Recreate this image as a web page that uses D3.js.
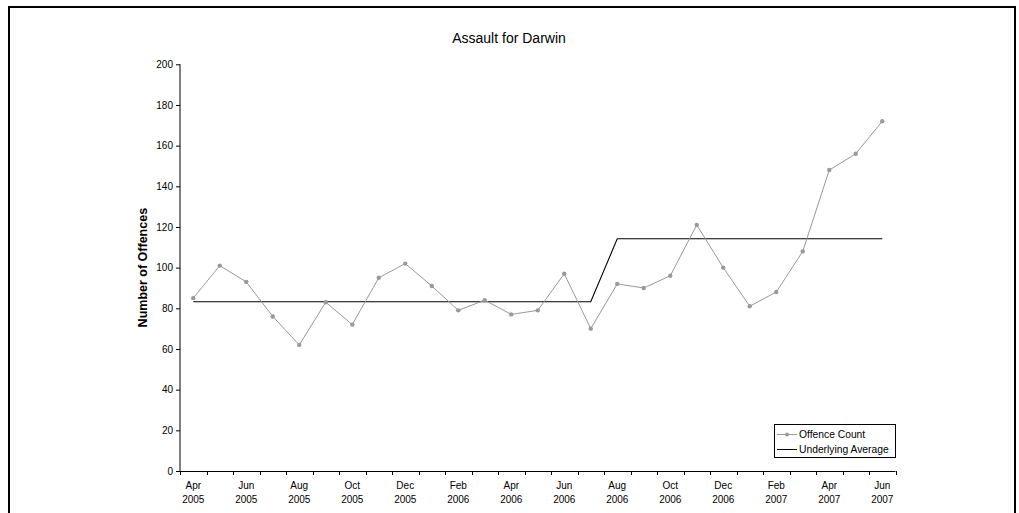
<!DOCTYPE html>
<html>
<head>
<meta charset="utf-8">
<script src="https://cdn.jsdelivr.net/npm/d3@7"></script>
<style>
  html, body { margin: 0; padding: 0; background: #fff; }
  svg { display: block; font-family: "Liberation Sans", Arial, sans-serif; }
</style>
</head>
<body>
<svg id="chart" width="1019" height="513"></svg>
<script>
const months = ["Apr 2005","May 2005","Jun 2005","Jul 2005","Aug 2005","Sep 2005","Oct 2005","Nov 2005","Dec 2005",
  "Jan 2006","Feb 2006","Mar 2006","Apr 2006","May 2006","Jun 2006","Jul 2006","Aug 2006","Sep 2006","Oct 2006",
  "Nov 2006","Dec 2006","Jan 2007","Feb 2007","Mar 2007","Apr 2007","May 2007","Jun 2007"];
const offenceCount = [85,101,93,76,62,83,72,95,102,91,79,84,77,79,97,70,92,90,96,121,100,81,88,108,148,156,172];
const underlyingAverage = [83.2,83.2,83.2,83.2,83.2,83.2,83.2,83.2,83.2,83.2,83.2,83.2,83.2,83.2,83.2,83.2,
  114.2,114.2,114.2,114.2,114.2,114.2,114.2,114.2,114.2,114.2,114.2];
const yTicks = [0,20,40,60,80,100,120,140,160,180,200];
const seriesNames = ["Offence Count","Underlying Average"];
const chartTitle = "Assault for Darwin";
const yTitle = "Number of Offences";

const svg = d3.select("#chart");

// outer border
svg.append("rect").attr("x",9).attr("y",7).attr("width",1006).attr("height",600)
  .attr("fill","none").attr("stroke","#000").attr("stroke-width",2);

const pLeft = 180, pRight = 895.5, pTop = 64.3, pBottom = 471;
const x = d3.scaleBand().domain(months).range([pLeft, pRight]).padding(0);
const y = d3.scaleLinear().domain([0,200]).range([pBottom, pTop]);
const cx = m => x(m) + x.bandwidth()/2;

// title
svg.append("text").attr("x",509).attr("y",43).attr("text-anchor","middle")
  .attr("font-size",14).attr("fill","#000").text(chartTitle);

// y axis
const yAxis = svg.append("g").attr("transform",`translate(${pLeft},0)`)
  .call(d3.axisLeft(y).tickValues(yTicks).tickSize(4).tickPadding(3));
yAxis.select(".domain").attr("stroke","#000").attr("d",`M0,${pBottom}V${pTop}`);
yAxis.selectAll(".tick line").attr("stroke","#000");
yAxis.selectAll(".tick text").attr("font-size",10).attr("fill","#000")
  .attr("font-family","Liberation Sans, Arial, sans-serif");

// y title
svg.append("text").attr("transform",`translate(147,${(pTop+pBottom)/2}) rotate(-90)`)
  .attr("text-anchor","middle").attr("font-size",12.5).attr("font-weight","bold")
  .attr("fill","#000").text(yTitle);

// x axis
const xg = svg.append("g").attr("transform",`translate(0,${pBottom})`);
xg.append("line").attr("x1",pLeft).attr("x2",pRight).attr("y1",0.5).attr("y2",0.5).attr("stroke","#000");
const tickPos = months.map(m => x(m)).concat([pRight]);
xg.selectAll("line.tk").data(tickPos).enter().append("line").attr("class","tk")
  .attr("x1",d=>Math.round(d)+0.5).attr("x2",d=>Math.round(d)+0.5).attr("y1",0).attr("y2",4).attr("stroke","#000");
const labeled = months.filter((m,i)=> i%2===0);
const lbl = xg.selectAll("text.lb").data(labeled).enter().append("text").attr("class","lb")
  .attr("x",d=>cx(d)).attr("text-anchor","middle").attr("font-size",10).attr("fill","#000");
lbl.append("tspan").attr("x",d=>cx(d)).attr("y",18).text(d=>d.split(" ")[0]);
lbl.append("tspan").attr("x",d=>cx(d)).attr("y",32).text(d=>d.split(" ")[1]);

// underlying average line
const line = d3.line().x((d,i)=>cx(months[i])).y(d=>y(d));
svg.append("path").datum(underlyingAverage).attr("d",line)
  .attr("fill","none").attr("stroke","#000").attr("stroke-width",1.1);

// offence count line
svg.append("path").datum(offenceCount).attr("d",line)
  .attr("fill","none").attr("stroke","#999").attr("stroke-width",1);
svg.selectAll("circle.pt").data(offenceCount).enter().append("circle").attr("class","pt")
  .attr("cx",(d,i)=>cx(months[i])).attr("cy",d=>y(d)).attr("r",2.2).attr("fill","#999");

// legend
const lg = svg.append("g");
lg.append("rect").attr("x",774.5).attr("y",424.5).attr("width",121).attr("height",33)
  .attr("fill","#fff").attr("stroke","#000").attr("stroke-width",1);
lg.append("line").attr("x1",777).attr("x2",797).attr("y1",434.5).attr("y2",434.5).attr("stroke","#999");
lg.append("circle").attr("cx",787).attr("cy",434.5).attr("r",2).attr("fill","#999");
lg.append("line").attr("x1",777).attr("x2",797).attr("y1",449.5).attr("y2",449.5).attr("stroke","#000");
lg.append("text").attr("x",799).attr("y",438).attr("font-size",10.3).attr("fill","#000").text(seriesNames[0]);
lg.append("text").attr("x",799).attr("y",453).attr("font-size",10.3).attr("fill","#000").text(seriesNames[1]);
</script>
</body>
</html>
